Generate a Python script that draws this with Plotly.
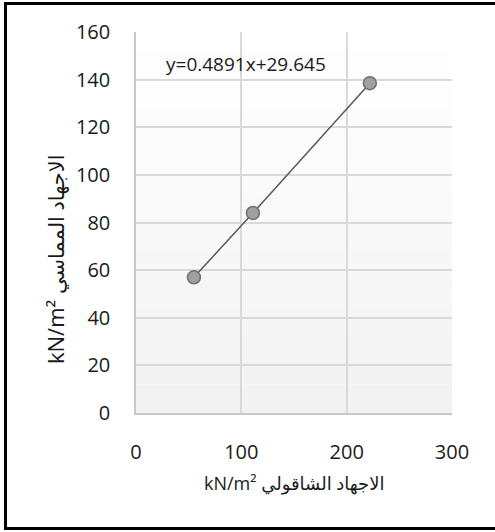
import plotly.graph_objects as go

# Data
normal_stress = [55, 111, 222]          # الاجهاد الشاقولي kN/m²
shear_stress = [57, 84, 138.5]          # الاجهاد المماسي kN/m²
x_ticks = [0, 100, 200, 300]
y_ticks = [0, 20, 40, 60, 80, 100, 120, 140, 160]
equation = "y=0.4891x+29.645"
x_title = "kN/m² الاجهاد الشاقولي"
y_title_unit = "kN/m²"
y_title_ar = "الاجهاد المماسي"

W, H = 495, 532
L, R, T, B = 136, 43, 32, 119
pw, ph = W - L - R, H - T - B

def px_x(p):
    return (p - L) / pw

def px_y(p):
    return (H - B - p) / ph

fig = go.Figure()
fig.add_trace(go.Scatter(
    x=normal_stress, y=shear_stress, mode="lines+markers",
    line=dict(color="#595959", width=1.5),
    marker=dict(size=13, color="#a0a0a0", line=dict(color="#707070", width=1.5)),
    showlegend=False, hoverinfo="skip",
))

shapes = []
n = 40
for i in range(n):
    t = i / (n - 1)
    v = int(round(255 - (255 - 242) * t))
    col = f"rgb({v},{v},{v})"
    shapes.append(dict(type="rect", xref="x domain", yref="y domain",
                       x0=0, x1=1, y0=1 - (i + 1) / n, y1=1 - i / n,
                       fillcolor=col, line=dict(width=0), layer="below"))
# outer frame
shapes.append(dict(type="rect", xref="paper", yref="paper",
                   x0=px_x(5.5), x1=px_x(500), y0=px_y(528.5), y1=px_y(3.5),
                   line=dict(color="black", width=3), fillcolor="rgba(0,0,0,0)",
                   layer="above"))

font_family = "Open Sans, DejaVu Sans, sans-serif"

fig.update_layout(
    width=W, height=H,
    margin=dict(l=L, r=R, t=T, b=B),
    paper_bgcolor="white", plot_bgcolor="white",
    font=dict(family=font_family, color="#1a1a1a", size=20),
    shapes=shapes,
    xaxis=dict(range=[0, 300], tickvals=x_ticks, showgrid=True,
               gridcolor="#d9d9d9", gridwidth=1.5, zeroline=False,
               showline=True, linecolor="#c8c8c8", linewidth=1.5, mirror=False,
               ticks="", ticklabelstandoff=20, tickfont=dict(size=20)),
    yaxis=dict(range=[0, 160], tickvals=y_ticks, showgrid=True,
               gridcolor="#d9d9d9", gridwidth=1.5, zeroline=False,
               showline=True, linecolor="#c8c8c8", linewidth=1.5, mirror=False,
               ticks="", ticklabelstandoff=20, tickfont=dict(size=20)),
    annotations=[
        dict(text=equation, x=px_x(246), y=px_y(64), xref="paper", yref="paper",
             showarrow=False, xanchor="center", yanchor="middle",
             font=dict(size=19, color="#1a1a1a")),
        dict(text=x_title, x=0.5, y=px_y(483), xref="paper", yref="paper",
             showarrow=False, xanchor="center", yanchor="middle",
             font=dict(size=18, color="#1a1a1a")),
        dict(text=f"{y_title_unit} <span style='font-size:21px'>{y_title_ar}</span>",
             x=px_x(55), y=px_y(259), xref="paper", yref="paper",
             textangle=-90, showarrow=False, xanchor="center", yanchor="middle",
             font=dict(size=22, color="#1a1a1a")),
    ],
)

fig.write_html("out.html")
